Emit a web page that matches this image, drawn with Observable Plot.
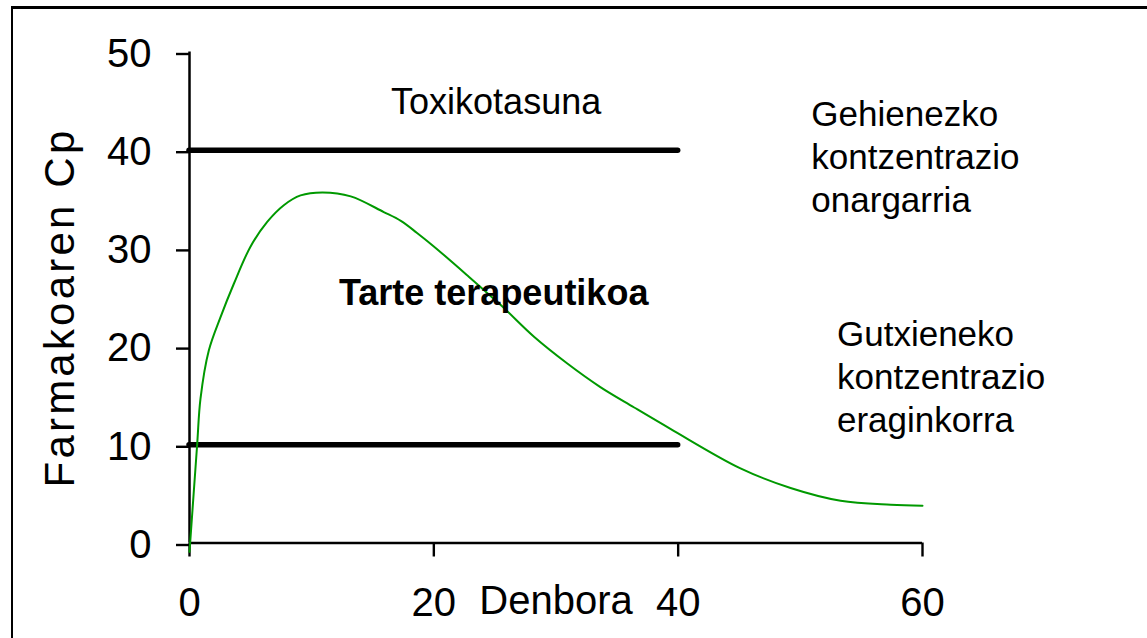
<!DOCTYPE html>
<html><head><meta charset="utf-8">
<script src="https://cdn.jsdelivr.net/npm/d3@7"></script>
<script src="https://cdn.jsdelivr.net/npm/@observablehq/plot@0.6"></script>
<style>
html,body{margin:0;padding:0;background:#fff;}
body{width:1147px;height:638px;overflow:hidden;position:relative;font-family:"Liberation Sans",Arial,sans-serif;}
#chart{position:absolute;left:0;top:0;}
#frame{position:absolute;left:11px;top:6px;width:2000px;height:2000px;border-left:2.5px solid #000;border-top:3px solid #000;pointer-events:none;}
svg g[aria-label*="tick"], svg g[aria-label*="tick"] *{stroke-width:2.4px;}
svg g[aria-label*="tick-label"], svg g[aria-label*="tick-label"] *{stroke-width:0;}
</style></head><body>
<div id="chart"></div><div id="frame"></div>
<script>
// Drug plasma concentration over time
const time = [0, 0.62, 0.9, 1.58, 2.54, 3.63, 5.0, 6.36, 7.72, 9.09, 10.9, 13.2, 15.9, 17.3, 18.6, 20.0, 22.7, 25.5, 28.2, 30.9, 33.6, 36.4, 39.4, 45.1, 49.2, 53.3, 57.4, 60];
const conc = [-0.9, 9.9, 14.7, 19.6, 23.0, 26.4, 30.2, 32.7, 34.4, 35.4, 35.7, 35.3, 33.7, 32.8, 31.6, 30.2, 27.3, 24.2, 21.0, 18.3, 15.9, 13.8, 11.6, 7.6, 5.6, 4.3, 3.9, 3.8];
const xTicks = [0, 20, 40, 60];
const yTicks = [0, 10, 20, 30, 40, 50];
const limitLevels = [10, 40];
const limitStart = 0;
const limitEnd = 40;
const xLabel = "Denbora";
const yLabel = "Farmakoaren Cp";
const noteText = ["Toxikotasuna", "Gehienezko\nkontzentrazio\nonargarria", "Gutxieneko\nkontzentrazio\neraginkorra"];
const noteX = [25.1, 50.9, 53.0];
const noteY = [43.7, 33.7, 11.3];
const noteAnchor = ["middle", "start", "start"];
const zoneText = ["Tarte terapeutikoa"];
const zoneX = [24.9];
const zoneY = [24.2];

const curve = time.map((t, i) => ({t, c: conc[i]}));
const notes = noteText.map((s, i) => ({s, x: noteX[i], y: noteY[i], a: noteAnchor[i]}));
const zone = zoneText.map((s, i) => ({s, x: zoneX[i], y: zoneY[i]}));

const W = 1147, H = 638;
const svg = Plot.plot({
  width: W, height: H,
  marginLeft: 189, marginRight: 225, marginTop: 51.5, marginBottom: 95.5,
  style: {fontFamily: '"Liberation Sans", Arial, sans-serif', fontSize: "40px", color: "#000", background: "transparent", overflow: "visible"},
  x: {domain: [0, 60]},
  y: {domain: [0, 50]},
  marks: [
    Plot.axisY({ticks: yTicks, tickSize: 13, tickPadding: 25, fontSize: 40, label: null, dy: 2, tickFormat: d => String(d)}),
    Plot.axisX({ticks: xTicks, tickSize: 14, tickPadding: 31, fontSize: 40, label: null, tickFormat: d => String(d)}),
    Plot.ruleY(limitLevels, {x1: limitStart, x2: limitEnd, stroke: "#000", strokeWidth: 5.5, strokeLinecap: "round"}),
    Plot.ruleY([0], {stroke: "#000", strokeWidth: 2.5}),
    Plot.ruleX([0], {stroke: "#000", strokeWidth: 2.5}),
    Plot.line(curve, {x: "t", y: "c", stroke: "#009900", strokeWidth: 2, curve: "catmull-rom"}),
    Plot.text(notes.filter(d => d.a === "middle"), {x: "x", y: "y", text: "s", textAnchor: "middle", lineAnchor: "bottom", fontSize: 36, fill: "#000"}),
    Plot.text(notes.filter(d => d.a === "start"), {x: "x", y: "y", text: "s", textAnchor: "start", lineAnchor: "bottom", fontSize: 35, lineHeight: 1.23, fill: "#000"}),
    Plot.text(zone, {x: "x", y: "y", text: "s", textAnchor: "middle", lineAnchor: "bottom", fontSize: 36, fontWeight: "bold", fill: "#000"}),
    Plot.text([xLabel], {frameAnchor: "bottom", textAnchor: "middle", lineAnchor: "bottom", dy: 71, fontSize: 40, fill: "#000"}),
    Plot.text([yLabel], {frameAnchor: "left", textAnchor: "middle", lineAnchor: "bottom", rotate: -90, dx: -116, dy: 10, fontSize: 42, fill: "#000"})
  ]
});
d3.select(svg).selectAll("text").filter(function() { return this.textContent === yLabel; }).style("letter-spacing", "3.2px");
document.getElementById("chart").appendChild(svg);
</script>
</body></html>
